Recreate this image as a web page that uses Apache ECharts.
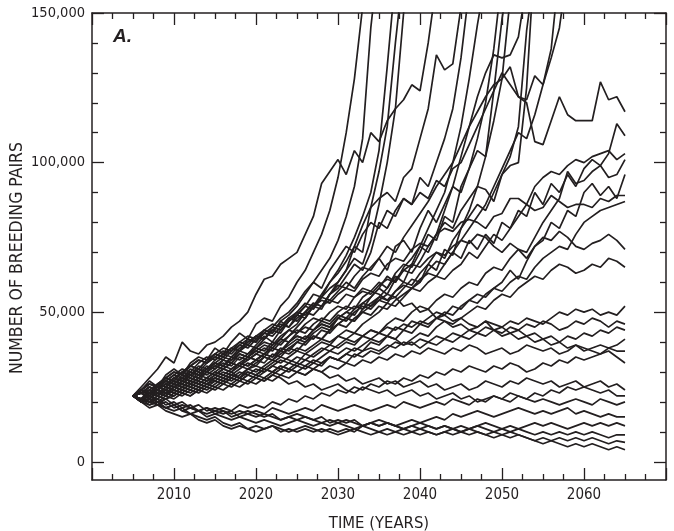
<!DOCTYPE html>
<html><head><meta charset="utf-8">
<script src="https://cdn.jsdelivr.net/npm/echarts@6/dist/echarts.min.js"></script>
<style>html,body{margin:0;padding:0;background:#fff}#c{width:674px;height:531px}</style>
</head><body><div id="c"></div>
<script>
// x values: simulation years
const years = [2005,2006,2007,2008,2009,2010,2011,2012,2013,2014,2015,2016,2017,2018,2019,
2020,2021,2022,2023,2024,2025,2026,2027,2028,2029,2030,2031,2032,2033,2034,2035,2036,2037,2038,2039,
2040,2041,2042,2043,2044,2045,2046,2047,2048,2049,2050,2051,2052,2053,2054,2055,2056,2057,2058,2059,
2060,2061,2062,2063,2064,2065];

// Breeding pairs, thousands. Trajectories that leave the top of the chart
const e01 = [22,25,28,31,35, 33,40,37,36,39, 40,42,45,47,50, 56,61,62,66,68, 70,76,82,93,97, 101,96,104,100,110, 107,114,118,121,126, 124,140,160];
const e02 = [22,24,27,25,29, 31,29,33,35,34, 38,36,40,43,41, 46,48,47,52,55, 60,64,70,76,84, 95,110,128,152];
const e03 = [22,21,24,26,25, 28,30,29,32,31, 34,36,35,38,40, 42,41,45,48,50, 53,57,60,64,68, 74,82,92,108,145, 170];
const e04 = [22,23,21,24,26, 25,27,29,28,31, 33,32,35,37,36, 39,42,40,44,47, 49,52,56,55,60, 64,69,75,82,90, 104,132,162];
const e05 = [22,20,23,22,25, 27,26,29,31,30, 33,35,34,37,39, 38,41,44,43,47, 50,53,52,56,60, 63,67,72,79,85, 97,112,140,165];
const e06 = [22,24,22,26,28, 27,30,32,31,34, 36,35,38,37,41, 40,44,43,47,45, 49,52,51,55,58, 60,64,68,66,74, 86,100,118,150,172];
const e07 = [22,21,23,25,24, 26,28,27,30,29, 31,33,32,35,34, 36,38,37,40,42, 45,48,52,51,56, 60,64,72,70,85, 88,90,87,95,98, 108,118,136,131,133, 152];
const e08 = [22,23,25,24,26, 28,27,30,29,32, 31,34,33,36,35, 37,36,39,41,44, 46,50,53,52,56, 58,62,66,64,70, 80,78,84,88,86, 95,92,100,108,118, 135,158];
const e09 = [22,21,20,22,24, 23,25,27,26,28, 30,29,31,33,32, 34,33,36,35,38, 40,39,42,41,44, 46,48,47,51,53, 55,58,62,60,66, 72,78,84,90,100, 112,128,146,162];
const e10 = [22,23,22,25,27, 26,28,30,29,31, 33,32,35,34,36, 38,37,40,39,42, 44,43,46,48,47, 50,52,51,55,57, 60,58,63,66,65, 70,76,74,82,80, 92,98,108,120,138, 162];
const e11 = [22,20,21,19,21, 22,24,23,25,24, 26,28,27,29,31, 30,32,34,33,35, 37,36,38,40,39, 42,44,43,46,48, 50,53,52,55,58, 60,66,64,71,69, 78,84,92,102,124, 148,165];
const e12 = [22,24,26,25,28, 30,29,32,34,33, 36,38,37,40,42, 41,44,46,45,48, 50,49,52,55,54, 57,60,58,62,65, 68,64,72,74,70, 78,84,80,86,92, 90,98,104,102,114, 128,155];
const e13 = [22,21,23,22,24, 26,25,27,29,28, 30,32,31,33,35, 34,36,38,37,40, 42,41,44,46,45, 48,50,49,53,55, 58,56,61,64,63, 67,72,76,84,92, 102,112,122,130,136, 135,136,142,160];
const e14 = [22,23,21,24,23, 25,27,26,28,30, 29,31,30,33,32, 34,36,35,38,37, 40,42,41,44,43, 46,48,47,50,52, 54,53,57,60,59, 63,66,70,68,74, 78,82,86,84,90, 96,102,112,144,165];
const e15 = [22,21,20,21,23, 22,24,26,25,27, 28,30,29,31,33, 32,35,34,37,39, 41,40,43,45,44, 48,50,52,51,55, 58,62,60,65,68, 72,70,76,80,78, 84,88,92,91,87, 96,99,100,125,170];
const e16 = [22,23,24,22,25, 27,26,28,27,30, 29,31,33,32,34, 36,35,38,37,40, 42,41,44,46,45, 48,47,50,52,51, 54,56,55,58,61, 60,64,67,66,70, 74,78,82,86,92, 98,104,110,108,116, 126,138,165];
const e17 = [22,24,23,25,27, 29,28,31,30,33, 35,34,37,39,38, 41,43,42,45,48, 47,50,53,52,56, 59,58,62,65,64, 68,72,70,75,79, 83,87,92,96,100, 106,112,117,122,126, 128,132,122,121,129, 126,135,145,165];

// Trajectories that stay inside the chart to 2065
const r01 = [22,24,23,26,28, 27,30,32,31,34, 36,35,38,40,39, 42,44,43,47,49, 52,56,60,58,64, 68,72,70,76,80, 78,84,82,88,86, 90,88,94,92,98, 100,106,112,118,124, 130,126,122,120,107, 106,114,122,116,114, 114,114,127,121,122, 117];
const r02 = [22,23,25,24,27, 26,29,28,31,30, 32,34,33,36,35, 37,39,38,41,40, 43,45,44,47,46, 49,48,51,53,52, 55,54,57,59,58, 61,63,62,66,70, 68,74,71,76,73, 80,78,84,82,90, 86,93,90,96,92, 98,101,99,103,113, 109];
const r03 = [22,20,22,21,23, 25,24,26,28,27, 29,28,30,32,31, 33,35,34,36,38, 37,40,42,41,44, 46,45,48,50,49, 52,51,54,56,58, 57,60,62,61,64, 66,70,68,72,76, 74,78,82,86,92, 95,97,96,99,101, 100,102,103,104,101, 103];
const r04 = [22,23,21,23,22, 24,23,25,24,26, 27,26,28,30,29, 31,30,32,34,33, 35,34,36,38,37, 39,41,40,42,44, 43,46,48,47,50, 52,51,54,56,55, 58,60,59,63,65, 64,68,71,70,75, 80,84,88,97,93, 94,97,99,95,96, 101];
const r05 = [22,21,23,24,22, 25,27,26,28,27, 29,31,30,28,31, 32,31,33,35,34, 33,36,35,37,39, 38,40,39,42,41, 43,42,45,44,47, 46,48,50,49,52, 51,54,56,55,58, 60,64,61,67,72, 74,80,78,84,82, 90,93,89,92,88, 96];
const r06 = [22,24,26,25,28, 30,29,32,34,33, 35,37,36,39,41, 40,43,45,44,47, 49,48,52,54,53, 56,58,57,61,63, 62,66,68,67,71, 73,72,76,78,77, 80,81,80,78,82, 83,88,88,86,84, 85,89,87,85,86, 86,85,88,87,89, 89];
const r07 = [22,21,20,22,21, 23,22,24,23,25, 24,26,25,27,26, 28,27,29,31,30, 32,31,33,32,35, 34,36,38,37,40, 39,42,41,44,43, 46,45,48,50,49, 52,54,53,56,58, 57,60,62,61,65, 68,70,72,71,76, 80,82,84,85,86, 87];
const r08 = [22,24,23,25,27, 26,28,30,29,31, 33,32,34,36,35, 38,40,39,42,44, 43,46,48,47,50, 52,51,55,57,56, 59,61,60,64,66, 65,68,70,69,72, 74,73,76,75,72, 70,73,71,68,72, 75,74,77,75,72, 71,73,74,76,74, 71];
const r09 = [22,20,21,23,22, 24,23,22,24,26, 25,27,26,28,27, 29,28,30,29,31, 30,32,31,33,35, 34,33,36,35,37, 36,38,40,39,41, 43,42,45,47,46, 48,50,52,51,54, 56,55,58,60,62, 61,64,66,65,63, 64,66,65,68,67, 65];
const r10 = [22,23,25,24,26, 28,27,29,31,30, 32,31,33,32,35, 34,36,35,37,36, 38,37,39,41,40, 42,41,43,42,44, 43,45,44,46,45, 47,46,48,47,45, 46,44,45,47,46, 45,47,46,48,47, 46,48,50,49,51, 50,51,49,50,49, 52];
const r11 = [22,21,23,22,24, 23,25,24,26,25, 27,26,28,27,29, 28,30,32,31,33, 32,34,33,35,37, 36,38,37,39,41, 40,42,41,39,40, 38,40,39,41,40, 42,41,43,42,44, 43,45,44,46,45, 47,46,44,45,47, 46,48,47,45,47, 46];
const r12 = [22,24,26,25,27, 29,31,30,33,35, 34,36,38,37,40, 42,41,44,46,45, 48,50,49,52,54, 53,56,55,58,57, 56,54,55,52,53, 50,51,48,49,47, 48,46,45,47,44, 45,43,44,42,43, 41,42,40,42,41, 43,42,44,43,45, 44];
const r13 = [22,23,22,24,23, 25,26,25,27,26, 28,27,29,28,30, 29,31,30,32,31, 33,32,34,33,35, 34,36,35,37,38, 37,39,38,40,39, 41,40,42,41,43, 42,44,43,45,44, 42,43,41,42,40, 41,39,40,38,39, 37,38,39,38,39, 41];
const r14 = [22,20,21,20,22, 21,23,22,24,23, 25,24,26,25,27, 26,28,27,29,28, 30,29,31,30,32, 31,33,32,34,33, 35,34,36,35,37, 36,38,37,36,38, 37,39,38,36,37, 38,36,37,39,38, 37,38,36,37,39, 38,37,36,38,37, 37];
const r15 = [22,21,20,19,20, 18,19,18,17,18, 17,18,17,19,18, 19,18,20,19,21, 20,22,21,23,22, 24,23,25,24,26, 25,27,26,28,27, 29,28,30,29,31, 30,32,31,30,32, 31,33,32,30,31, 33,32,34,33,35, 34,35,36,37,35, 33];
const r16 = [22,23,24,23,25, 24,26,25,27,26, 28,27,29,28,30, 29,31,30,32,31, 30,29,31,30,28, 29,27,28,26,27, 28,26,27,25,26, 27,25,26,24,25, 26,24,25,27,26, 25,27,26,28,27, 26,27,25,26,27, 25,26,27,25,26, 24];
const r17 = [22,20,19,20,18, 19,17,18,17,16, 17,16,17,15,16, 17,16,18,17,16, 17,18,17,19,18, 17,18,19,18,17, 18,19,18,20,19, 18,19,20,19,21, 20,19,21,20,22, 21,23,22,21,23, 22,24,23,25,24, 25,24,23,24,22, 22];
const r18 = [22,24,23,25,24, 26,25,27,26,28, 27,29,28,27,29, 28,27,29,28,26, 27,25,26,24,25, 26,24,23,25,24, 23,24,22,23,24, 22,23,21,22,23, 21,22,20,21,22, 21,20,22,21,20, 21,20,19,20,21, 20,19,21,20,19, 20];
const r19 = [22,21,20,21,19, 20,18,19,17,18, 16,17,15,16,17, 16,15,16,14,15, 16,15,14,15,13, 14,13,14,12,13, 14,13,12,13,14, 13,14,15,14,16, 15,16,17,16,15, 16,17,18,17,16, 17,16,17,18,16, 17,16,15,16,15, 15];
const r20 = [22,20,21,19,18, 19,17,16,17,15, 16,15,14,15,14, 13,14,13,12,13, 14,13,12,13,12, 13,12,11,12,13, 12,13,12,11,12, 13,12,11,12,11, 12,11,12,13,12, 11,12,11,12,13, 12,13,12,11,12, 13,12,13,12,13, 12];
const r21 = [22,21,22,20,21, 19,20,18,19,17, 18,17,16,17,16, 15,16,15,14,15, 14,15,14,13,14, 13,14,13,12,13, 12,13,12,11,12, 11,12,11,12,11, 10,11,12,11,10, 11,10,11,10,9, 10,9,10,9,10, 9,10,9,8,9, 9];
const r22 = [22,20,18,19,17, 16,15,16,14,13, 14,12,11,12,11, 10,11,12,11,10, 11,12,11,10,11, 10,11,10,12,11, 10,11,10,9,10, 11,10,9,10,9, 10,9,10,9,8, 9,8,9,8,7, 8,7,8,7,8, 7,8,7,6,7, 6.5];
const r23 = [22,21,19,20,18, 17,18,16,15,14, 15,13,12,13,11, 12,11,12,10,11, 10,11,10,11,10, 9,10,11,10,9, 10,9,10,11,10, 9,10,9,10,11, 10,11,10,9,10, 9,10,9,8,7, 6,7,6,5,6, 5,6,5,4,5, 4];

const allRuns = [e01,e02,e03,e04,e05,e06,e07,e08,e09,e10,e11,e12,e13,e14,e15,e16,e17,
  r01,r02,r03,r04,r05,r06,r07,r08,r09,r10,r11,r12,r13,r14,r15,r16,r17,r18,r19,r20,r21,r22,r23];

// axis tick values (thousands)
const yMajorTicks = [0, 50, 100, 150];
const yMinorTicks = [10, 20, 30, 40, 60, 70, 80, 90, 110, 120, 130, 140];

const INK = '#231f20';
const FONT = '"Liberation Sans Narrow", "DejaVu Sans Condensed", "Liberation Sans", sans-serif';

function yFmt(v){ return v === 0 ? '0' : v + ',000'; }

const xBase = (pos, showLabel) => ({
  type: 'value', min: 2000, max: 2070, interval: 10, position: pos,
  axisLine: { show: true, onZero: false, lineStyle: { color: INK, width: 1.5 } },
  axisTick: { show: true, inside: true, length: 12, lineStyle: { color: INK, width: 1.3 } },
  minorTick: { show: true, splitNumber: 4, length: 6, lineStyle: { color: INK, width: 1.3 } },
  splitLine: { show: false }, minorSplitLine: { show: false },
  axisLabel: { show: showLabel, color: INK, fontFamily: FONT, fontSize: 15, margin: 8,
    formatter: v => (v > 2000 && v < 2070) ? String(v) : '' }
});

const yBase = (pos, ticks, len, line, label) => ({
  type: 'value', min: -6.1, max: 150, position: pos,
  axisLine: { show: line, onZero: false, lineStyle: { color: INK, width: 1.5 } },
  axisTick: { show: true, inside: true, length: len, customValues: ticks, lineStyle: { color: INK, width: 1.3 } },
  splitLine: { show: false },
  axisLabel: { show: label, customValues: ticks, color: INK, fontFamily: FONT, fontSize: 14.5, margin: 7, formatter: yFmt }
});

const xMain = xBase('bottom', true);
xMain.name = 'TIME (YEARS)';
xMain.nameLocation = 'middle';
xMain.nameGap = 35;
xMain.nameTextStyle = { color: INK, fontFamily: FONT, fontSize: 16.5 };

const yMain = yBase('left', yMajorTicks, 12, true, true);

const chart = echarts.init(document.getElementById('c'));
chart.setOption({
  animation: false,
  grid: { left: 92, right: 8, top: 13, bottom: 51, containLabel: false, outerBoundsMode: 'none' },
  xAxis: [xMain, xBase('top', false)],
  yAxis: [yMain, yBase('left', yMinorTicks, 6, false, false),
          yBase('right', yMajorTicks, 12, true, false), yBase('right', yMinorTicks, 6, false, false)],
  graphic: [
    { type: 'text', left: 113, top: 27,
      style: { text: 'A.', font: 'italic bold 19px "Liberation Sans", sans-serif', fill: INK } },
    { type: 'text', x: 17, y: 258, rotation: Math.PI / 2,
      style: { text: 'NUMBER OF BREEDING PAIRS', fontFamily: FONT, fontSize: 17.5, fill: INK,
        align: 'center', verticalAlign: 'middle' } }
  ],
  series: allRuns.map((run, k) => ({
    type: 'line', name: 'run' + (k + 1), xAxisIndex: 0, yAxisIndex: 0,
    symbol: 'none', showSymbol: false, silent: true, clip: true,
    lineStyle: { color: INK, width: 1.7 },
    data: run.map((v, i) => [years[i], v])
  }))
});
</script></body></html>
